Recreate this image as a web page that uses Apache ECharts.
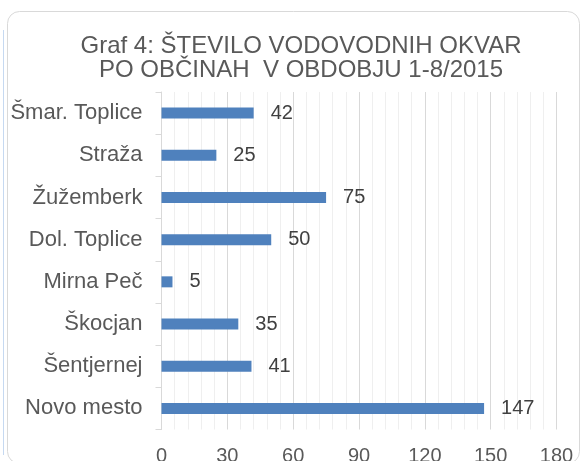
<!DOCTYPE html>
<html>
<head>
<meta charset="utf-8">
<script src="https://cdn.jsdelivr.net/npm/echarts@6/dist/echarts.min.js"></script>
<style>
  html, body { margin: 0; padding: 0; background: #fff; }
  #chart { width: 580px; height: 461px; }
</style>
</head>
<body>
<div id="chart"></div>
<script>
// podatki
const categories = ['Šmar. Toplice', 'Straža', 'Žužemberk', 'Dol. Toplice', 'Mirna Peč', 'Škocjan', 'Šentjernej', 'Novo mesto']
const okvare = [42, 25, 75, 50, 5, 35, 41, 147]
const xTicks = [0, 30, 60, 90, 120, 150, 180]

const font = 'Liberation Sans, Arial, sans-serif'
const gray = '#595959'

const chart = echarts.init(document.getElementById('chart'), null, { renderer: 'canvas' })

const option = {
  animation: false,
  backgroundColor: '#fff',
  title: {
    text: 'Graf 4: ŠTEVILO VODOVODNIH OKVAR\nPO OBČINAH  V OBDOBJU 1-8/2015',
    left: 301,
    top: 34,
    textAlign: 'center',
    padding: 0,
    textStyle: {
      fontFamily: font,
      fontSize: 24,
      fontWeight: 'normal',
      lineHeight: 24,
      color: gray
    }
  },
  graphic: [
    {
      type: 'rect',
      shape: { x: 7.5, y: 11.5, width: 572, height: 452, r: 12 },
      style: { fill: 'none', stroke: '#d9d9d9', lineWidth: 1 },
      z: -1
    },
    {
      type: 'line',
      shape: { x1: 3.5, y1: 30, x2: 3.5, y2: 455 },
      style: { stroke: '#c6d9f1', lineWidth: 1 },
      z: -1
    }
  ],
  grid: {
    left: 161.5,
    right: 23.5,
    top: 92,
    bottom: 31.5,
    containLabel: false,
    outerBoundsMode: 'none'
  },
  xAxis: {
    type: 'value',
    min: xTicks[0],
    max: xTicks[xTicks.length - 1],
    interval: xTicks[1] - xTicks[0],
    axisLine: { show: false },
    axisTick: { show: false },
    axisLabel: {
      margin: 17,
      fontFamily: font,
      fontSize: 20,
      color: gray
    },
    splitLine: { show: true, lineStyle: { color: '#d9d9d9', width: 1 } },
    minorTick: { show: false, splitNumber: 5 },
    minorSplitLine: { show: true, lineStyle: { color: '#efefef', width: 1 } }
  },
  yAxis: {
    type: 'category',
    data: categories,
    inverse: true,
    axisLine: { show: true, lineStyle: { color: '#d9d9d9', width: 1 } },
    axisTick: { show: true, length: 6, lineStyle: { color: '#d9d9d9' } },
    axisLabel: {
      margin: 19,
      fontFamily: font,
      fontSize: 22,
      color: gray
    },
    splitLine: { show: false }
  },
  series: [{
    name: 'Okvare',
    type: 'bar',
    data: okvare,
    barWidth: 11,
    itemStyle: { color: '#4f81bd' },
    label: {
      show: true,
      position: 'right',
      distance: 17,
      fontFamily: font,
      fontSize: 20,
      color: '#404040'
    }
  }]
}

chart.setOption(option)
</script>
</body>
</html>
